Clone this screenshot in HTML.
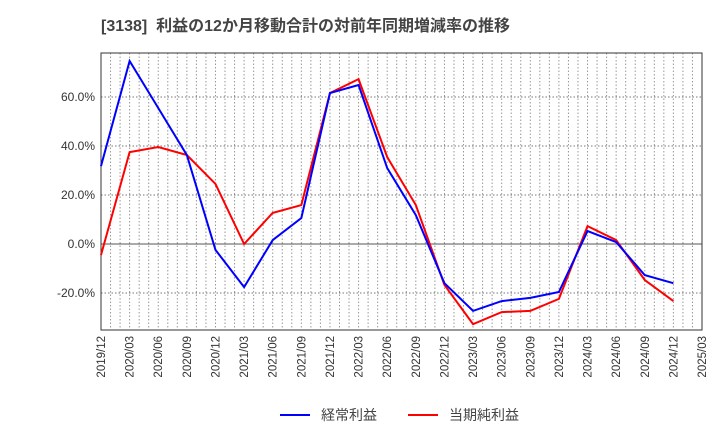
<!DOCTYPE html>
<html><head><meta charset="utf-8"><style>
body{margin:0;background:#fff;font-family:"Liberation Sans","Noto Sans CJK JP",sans-serif;}
svg text{font-family:"Liberation Sans","Noto Sans CJK JP",sans-serif;}
</style></head><body>
<svg id="c" width="720" height="440" xmlns="http://www.w3.org/2000/svg">
<text x="101" y="31" font-size="16" font-weight="bold" fill="#444" xml:space="preserve" style="white-space:pre">[3138]  利益の12か月移動合計の対前年同期増減率の推移</text>
</svg>
<script>
const categories=["2019/12","2020/03","2020/06","2020/09","2020/12","2021/03","2021/06","2021/09","2021/12","2022/03","2022/06","2022/09","2022/12","2023/03","2023/06","2023/09","2023/12","2024/03","2024/06","2024/09","2024/12","2025/03"];
const ordinaryProfit=[31.8,74.7,55.5,36.3,-2.4,-17.6,1.6,10.6,61.6,64.9,31,11.8,-16,-27.3,-23.3,-22,-19.6,5.3,0.8,-12.7,-16];
const netProfit=[-4.5,37.5,39.6,36.3,24.5,0,12.7,15.9,61.6,67.3,35.5,15.9,-16.7,-32.7,-27.8,-27.3,-22.4,7.3,1.6,-14.7,-23.3];
const yTicks=[-20,0,20,40,60];
const yTickLabels=["-20.0%","0.0%","20.0%","40.0%","60.0%"];
const seriesNames=["経常利益","当期純利益"];

const svg=document.getElementById('c');
const NS='http://www.w3.org/2000/svg';
const L=101,R=702,T=53,B=330;
const nQ=categories.length-1;
const xq=i=>L+(R-L)*i/nQ;
const y=v=>244-v*49/20;
function mk(tag,attrs){const e=document.createElementNS(NS,tag);for(const k in attrs)e.setAttribute(k,attrs[k]);svg.appendChild(e);return e;}
for(let m=1;m<nQ*3;m++){const x=L+(R-L)*m/(nQ*3);
const g=mk('line',{x1:x,x2:x,y1:T,y2:B,stroke:'#999','stroke-dasharray':'1.5,2','stroke-width':1});

}
yTicks.forEach((v,i)=>{
const g=mk('line',{x1:L,x2:R,y1:y(v),y2:y(v),stroke:v===0?'#555':'#777','stroke-dasharray':v===0?'':'1.5,2','stroke-width':1});


const t=mk('text',{x:L-6,y:y(v)+4,'font-size':12,'text-anchor':'end',fill:'#333'});
t.textContent=yTickLabels[i];


});
categories.forEach((c,i)=>{
const t=mk('text',{x:0,y:0,'font-size':11.5,'text-anchor':'end',fill:'#333',transform:`translate(${xq(i)+4},${B+6}) rotate(-90)`});
t.textContent=c;


});
const frame=mk('rect',{x:L,y:T,width:R-L,height:B-T,fill:'none',stroke:'#333','stroke-width':1});


function line(data,color,name){
const p=mk('polyline',{points:data.map((v,i)=>xq(i)+','+y(v)).join(' '),fill:'none',stroke:color,'stroke-width':2});

}
line(netProfit,'#ff0000','net-profit-line');
line(ordinaryProfit,'#0000ff','ordinary-profit-line');
[[280,'#0000ff',seriesNames[0]],[408,'#ff0000',seriesNames[1]]].forEach(([x,c,n],i)=>{
const l=mk('line',{x1:x,x2:x+30,y1:415,y2:415,stroke:c,'stroke-width':2});


const t=mk('text',{x:x+41,y:420,'font-size':14,fill:'#444'});
t.textContent=n;


});
</script>
</body></html>
